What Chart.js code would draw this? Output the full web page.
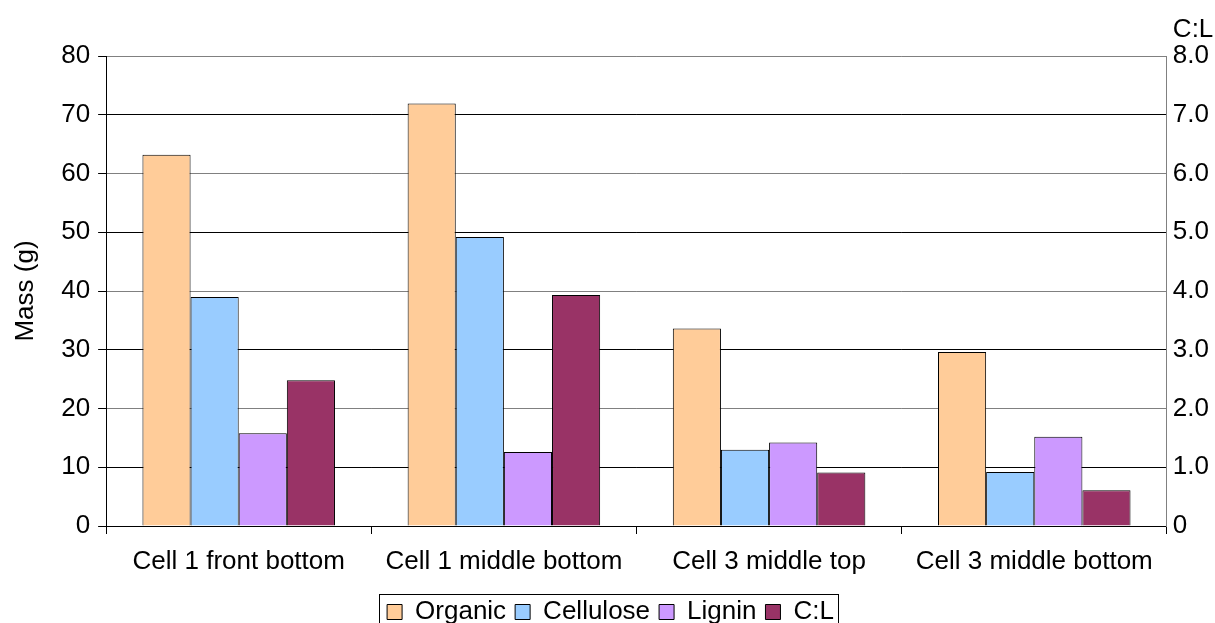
<!DOCTYPE html>
<html lang="en">
<head>
  <meta charset="UTF-8">
  <title>Mass and C:L</title>
  <script src="https://cdn.jsdelivr.net/npm/chart.js"></script>
  <style>
    html, body { margin: 0; padding: 0; background: #fff; }
    #wrap { width: 1215px; height: 623px; }
  </style>
</head>
<body>
  <div id="wrap"><canvas id="chart" width="1215" height="623"></canvas></div>

  <script>
    const categories = ["Cell 1 front bottom", "Cell 1 middle bottom", "Cell 3 middle top", "Cell 3 middle bottom"];
    const organic = [63.2, 71.9, 33.6, 29.6];
    const cellulose = [39.0, 49.2, 13.0, 9.2];
    const lignin = [15.8, 12.6, 14.2, 15.2];
    const ratioCL = [2.48, 3.93, 0.91, 0.61];

    const font = { family: "Arial, 'Liberation Sans', sans-serif", size: 26 };
    Chart.defaults.font = font;
    Chart.defaults.color = "#000";

    // "C:L" label above the right axis, and a frame around the legend
    const extras = {
      id: "extras",
      afterDraw(chart) {
        const ctx = chart.ctx;
        const r = chart.scales.y2;
        ctx.save();
        ctx.font = "26px " + font.family;
        ctx.fillStyle = "#000";
        ctx.textBaseline = "middle";
        ctx.textAlign = "left";
        ctx.fillText("C:L", r.left + 6, 30);

        const lg = chart.legend;
        const boxes = lg.legendHitBoxes;
        if (boxes.length) {
          const first = boxes[0], last = boxes[boxes.length - 1];
          const x0 = first.left - 8, x1 = last.left + last.width + 4;
          ctx.strokeStyle = "#000";
          ctx.lineWidth = 1;
          ctx.strokeRect(Math.round(x0) + 0.5, Math.round(first.top - 5) + 0.5, Math.round(x1 - x0), 50);
        }
        ctx.restore();
      }
    };

    new Chart(document.getElementById("chart"), {
      type: "bar",
      data: {
        labels: categories,
        datasets: [
          { label: "Organic", data: organic, backgroundColor: "#FFCC99", yAxisID: "y" },
          { label: "Cellulose", data: cellulose, backgroundColor: "#99CCFF", yAxisID: "y" },
          { label: "Lignin", data: lignin, backgroundColor: "#CC99FF", yAxisID: "y" },
          { label: "C:L", data: ratioCL, backgroundColor: "#993366", yAxisID: "y2" }
        ]
      },
      options: {
        responsive: false,
        animation: false,
        devicePixelRatio: 1,
        layout: { padding: { top: 56, right: 0, left: 6, bottom: -12 } },
        datasets: {
          bar: {
            borderColor: "#000",
            borderWidth: 1,
            barPercentage: 1,
            categoryPercentage: 0.726
          }
        },
        plugins: {
          legend: {
            position: "bottom",
            labels: {
              boxWidth: 15,
              boxHeight: 15,
              padding: 9,
              color: "#000",
              font: { family: font.family, size: 26, lineHeight: 1 },
              generateLabels(chart) {
                return chart.data.datasets.map((ds, i) => ({
                  text: ds.label,
                  fillStyle: ds.backgroundColor,
                  strokeStyle: "#000",
                  lineWidth: 1,
                  datasetIndex: i
                }));
              }
            }
          },
          tooltip: { enabled: false }
        },
        scales: {
          x: {
            grid: {
              drawOnChartArea: false,
              tickLength: 8,
              color: "#000",
              offset: true
            },
            border: { color: "#000" },
            ticks: {
              padding: 15,
              color: "#000",
              font: { family: font.family, size: 26, lineHeight: 1 },
              maxRotation: 0,
              autoSkip: false
            }
          },
          y: {
            position: "left",
            min: 0,
            max: 80,
            ticks: { stepSize: 10, padding: 8, color: "#000", font: font },
            grid: {
              tickLength: 8,
              tickColor: "#000",
              color: c => (c.tick && (c.tick.value / 10) % 2 === 0 && c.tick.value !== 0) ? "#808080" : "#000"
            },
            border: { color: "#000" },
            title: { display: true, text: "Mass (g)", color: "#000", font: font, padding: { bottom: 12 } }
          },
          y2: {
            position: "right",
            min: 0,
            max: 8,
            ticks: {
              stepSize: 1,
              padding: 6,
              color: "#000",
              font: font,
              callback: v => v === 0 ? "0" : v.toFixed(1)
            },
            grid: { drawOnChartArea: false, drawTicks: false },
            border: { color: "#808080" }
          }
        }
      },
      plugins: [extras]
    });
  </script>
</body>
</html>
